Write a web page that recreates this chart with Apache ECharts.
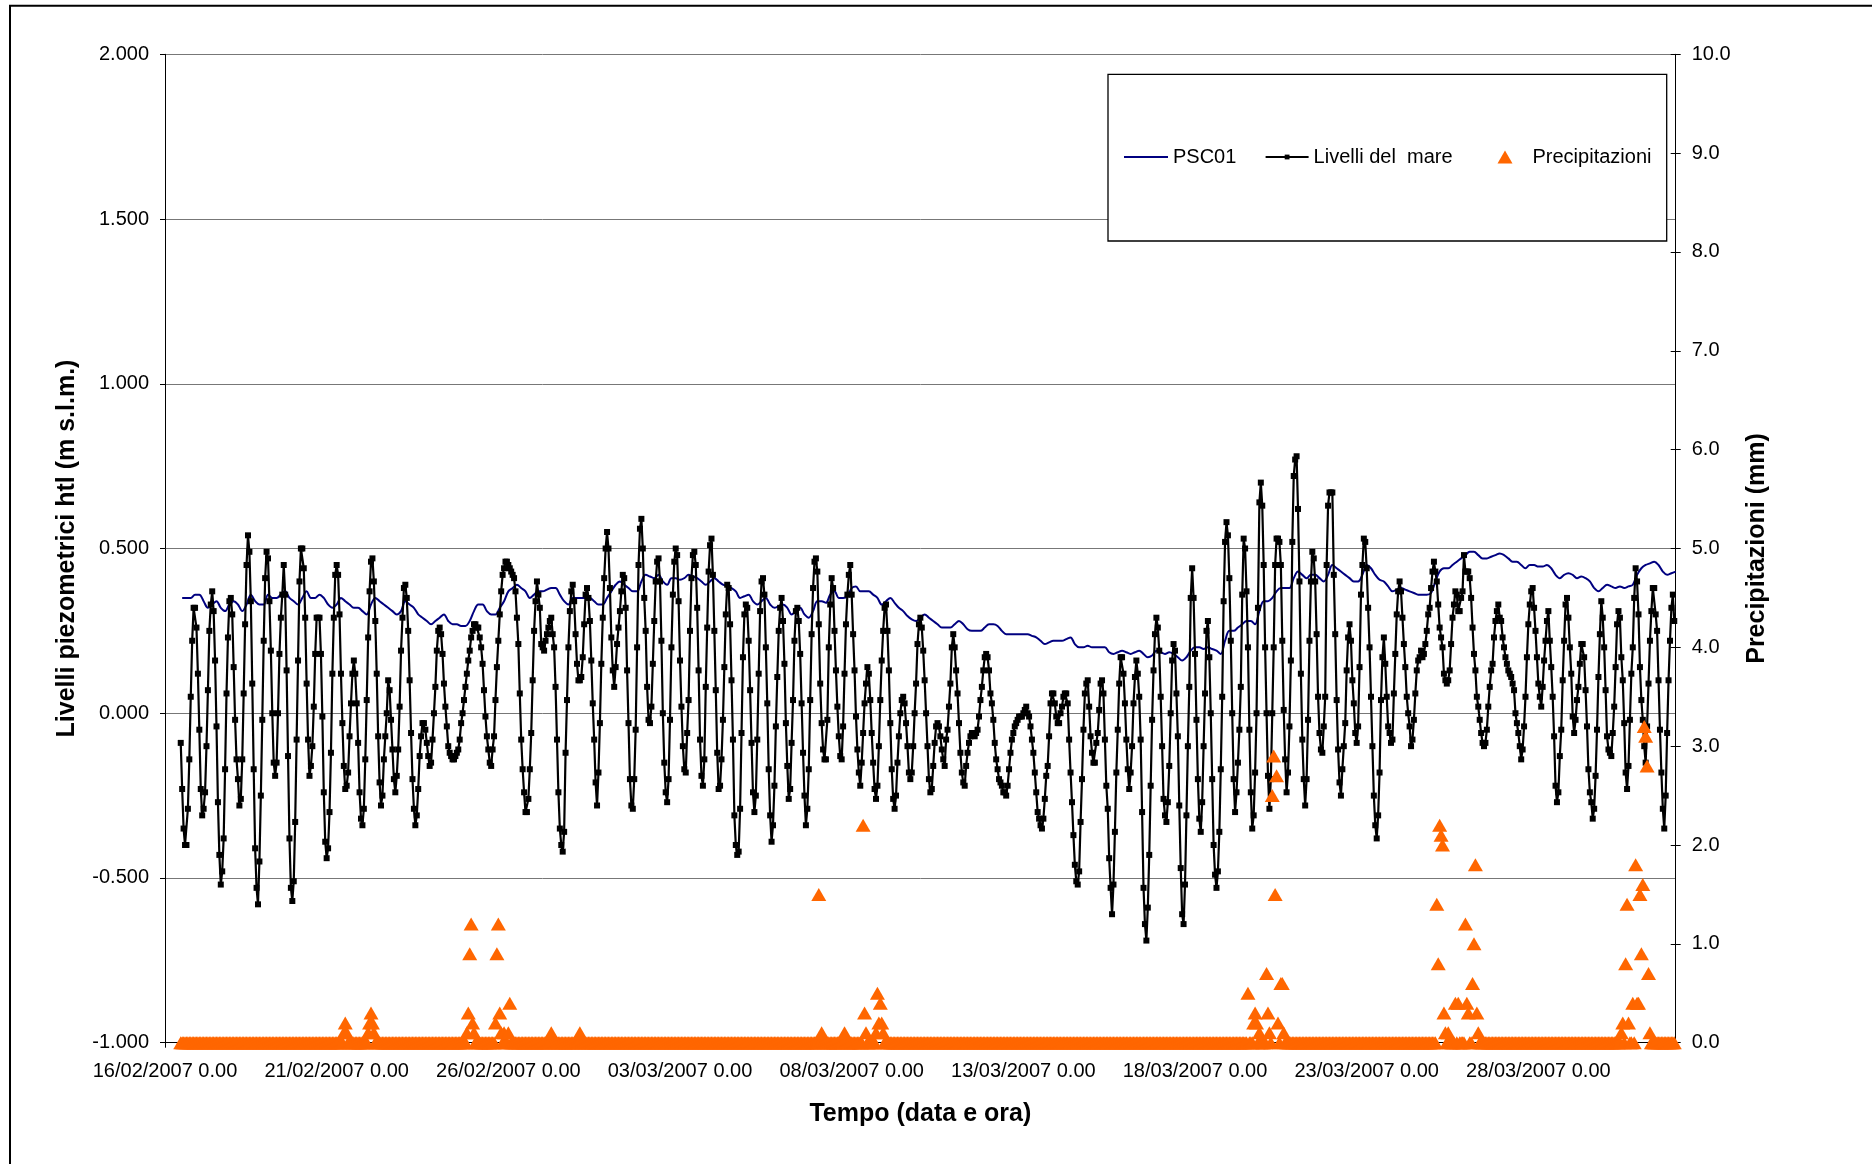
<!DOCTYPE html>
<html>
<head>
<meta charset="utf-8">
<script src="https://cdn.jsdelivr.net/npm/echarts@6/dist/echarts.min.js"></script>
<style>
html,body{margin:0;padding:0;background:#ffffff;}
#chart{width:1872px;height:1164px;}
</style>
</head>
<body>
<div id="chart"></div>
<script>
// ---------------- DATA ----------------
// x axis: hours counted from 16/02/2007 0.00 ; axis spans 44 days
const xMaxHours = 1056;
const xTickStepHours = 120;
const xTickLabels = ['16/02/2007 0.00','21/02/2007 0.00','26/02/2007 0.00','03/03/2007 0.00','08/03/2007 0.00','13/03/2007 0.00','18/03/2007 0.00','23/03/2007 0.00','28/03/2007 0.00'];
const leftAxisTicks = [-1.0,-0.5,0.0,0.5,1.0,1.5,2.0];
const rightAxisTicks = [0,1,2,3,4,5,6,7,8,9,10];

const seriesNames = ['PSC01','Livelli del  mare','Precipitazioni'];

// Livelli del mare: hourly values, one row per day (row 0 starts at 16/02 11:00)
const seaFirstHour = 11;
const seaLevelByDay = [
[-0.09,-0.23,-0.35,-0.40,-0.40,-0.29,-0.14,0.05,0.22,0.32,0.32,0.26,0.12],
[-0.05,-0.23,-0.31,-0.29,-0.24,-0.10,0.07,0.25,0.33,0.37,0.31,0.16,-0.04,-0.27,-0.43,-0.52,-0.48,-0.38,-0.17,0.06,0.23,0.34,0.35,0.30],
[0.14,-0.02,-0.14,-0.20,-0.28,-0.26,-0.14,0.06,0.27,0.45,0.54,0.49,0.34,0.09,-0.17,-0.41,-0.53,-0.58,-0.45,-0.25,-0.02,0.22,0.41,0.49],
[0.47,0.34,0.19,0.00,-0.15,-0.19,-0.15,0.00,0.18,0.29,0.36,0.45,0.36,0.13,-0.13,-0.38,-0.53,-0.57,-0.51,-0.33,-0.08,0.16,0.40,0.50],
[0.50,0.44,0.29,0.09,-0.08,-0.19,-0.16,-0.10,0.02,0.18,0.29,0.29,0.29,0.18,-0.01,-0.24,-0.39,-0.44,-0.41,-0.30,-0.12,0.12,0.29,0.42],
[0.45,0.42,0.30,0.12,-0.03,-0.16,-0.23,-0.22,-0.18,-0.07,0.03,0.12,0.16,0.12,0.03,-0.09,-0.24,-0.32,-0.34,-0.29,-0.14,0.04,0.23,0.37],
[0.46,0.47,0.40,0.28,0.12,-0.07,-0.21,-0.28,-0.25,-0.14,-0.07,0.00,0.10,0.07,-0.02,-0.11,-0.20,-0.24,-0.19,-0.11,0.02,0.19,0.29,0.38],
[0.39,0.35,0.25,0.10,-0.06,-0.20,-0.29,-0.34,-0.31,-0.23,-0.13,-0.07,-0.03,-0.03,-0.05,-0.09,-0.13,-0.16,-0.15,-0.08,0.00,0.08,0.19,0.25],
[0.26,0.24,0.18,0.09,0.02,-0.04,-0.10,-0.12,-0.13,-0.14,-0.14,-0.13,-0.12,-0.11,-0.08,-0.03,0.00,0.04,0.08,0.12,0.16,0.19,0.23,0.25],
[0.27,0.27,0.26,0.26,0.23,0.20,0.15,0.07,-0.01,-0.07,-0.11,-0.15,-0.16,-0.11,-0.07,0.04,0.14,0.22,0.30,0.37,0.42,0.44,0.46,0.46],
[0.45,0.44,0.43,0.42,0.41,0.37,0.29,0.21,0.06,-0.08,-0.17,-0.24,-0.30,-0.30,-0.26,-0.17,-0.06,0.10,0.25,0.34,0.40,0.36,0.32,0.21],
[0.20,0.19,0.22,0.24,0.26,0.28,0.29,0.24,0.20,0.08,-0.08,-0.24,-0.35,-0.40,-0.42,-0.36,-0.12,0.04,0.20,0.31,0.37,0.39,0.34,0.24],
[0.15,0.10,0.10,0.11,0.17,0.27,0.36,0.38,0.35,0.28,0.16,0.03,-0.08,-0.21,-0.28,-0.18,-0.03,0.15,0.29,0.41,0.50,0.55,0.50,0.38],
[0.23,0.13,0.08,0.14,0.21,0.26,0.31,0.37,0.42,0.41,0.32,0.13,-0.03,-0.20,-0.28,-0.29,-0.20,-0.05,0.20,0.45,0.56,0.59,0.50,0.35],
[0.25,0.08,-0.02,-0.03,0.02,0.15,0.28,0.40,0.46,0.47,0.40,0.22,0.00,-0.15,-0.24,-0.27,-0.20,-0.02,0.20,0.36,0.46,0.50,0.48,0.34],
[0.16,0.02,-0.10,-0.17,-0.18,-0.06,0.04,0.25,0.41,0.48,0.49,0.45,0.32,0.13,-0.08,-0.19,-0.22,-0.14,0.08,0.26,0.43,0.51,0.53,0.42],
[0.25,0.07,-0.12,-0.23,-0.22,-0.14,-0.02,0.14,0.30,0.39,0.38,0.27,0.10,-0.08,-0.31,-0.40,-0.43,-0.42,-0.29,-0.06,0.17,0.30,0.33,0.32],
[0.22,0.07,-0.09,-0.24,-0.30,-0.25,-0.08,0.12,0.31,0.40,0.41,0.36,0.20,0.03,-0.17,-0.31,-0.39,-0.34,-0.22,-0.04,0.11,0.25,0.32,0.35],
[0.28,0.15,-0.03,-0.16,-0.26,-0.23,-0.09,0.04,0.22,0.31,0.32,0.28,0.18,0.03,-0.12,-0.25,-0.34,-0.29,-0.17,0.04,0.24,0.38,0.46,0.47],
[0.43,0.27,0.09,-0.03,-0.11,-0.14,-0.14,-0.02,0.20,0.33,0.41,0.38,0.25,0.13,0.02,-0.07,-0.13,-0.14,-0.04,0.12,0.27,0.36,0.42,0.45],
[0.36,0.24,0.13,-0.01,-0.11,-0.18,-0.22,-0.15,-0.06,0.03,0.09,0.14,0.12,0.04,-0.06,-0.15,-0.23,-0.26,-0.22,-0.10,0.04,0.16,0.25,0.32],
[0.33,0.25,0.13,-0.03,-0.17,-0.26,-0.29,-0.25,-0.15,-0.07,0.00,0.04,0.05,0.03,-0.03,-0.10,-0.18,-0.20,-0.18,-0.10,0.00,0.09,0.21,0.27],
[0.29,0.26,0.19,0.10,0.00,-0.10,-0.20,-0.24,-0.23,-0.16,-0.09,-0.04,-0.03,-0.04,-0.07,-0.11,-0.14,-0.16,-0.08,-0.05,0.02,0.09,0.20,0.24],
[0.20,0.13,0.06,-0.03,-0.12,-0.18,-0.21,-0.22,-0.16,-0.12,-0.09,-0.07,-0.06,-0.06,-0.07,-0.06,-0.05,-0.01,0.04,0.08,0.13,0.17,0.18,0.17],
[0.13,0.06,0.03,-0.02,-0.09,-0.14,-0.17,-0.20,-0.21,-0.22,-0.24,-0.24,-0.25,-0.22,-0.17,-0.12,-0.08,-0.06,-0.04,-0.03,-0.02,-0.01,-0.01,-0.01],
[0.00,0.01,0.02,0.00,-0.01,-0.04,-0.08,-0.12,-0.18,-0.24,-0.30,-0.32,-0.34,-0.35,-0.32,-0.26,-0.19,-0.16,-0.07,0.03,0.06,0.06,0.03,-0.01],
[-0.03,-0.03,0.00,0.02,0.05,0.06,0.06,0.03,-0.08,-0.18,-0.27,-0.37,-0.46,-0.51,-0.52,-0.48,-0.33,-0.20,-0.05,0.06,0.09,0.10,0.02,-0.07],
[-0.12,-0.15,-0.15,-0.09,-0.06,0.01,0.09,0.10,0.06,-0.08,-0.22,-0.29,-0.44,-0.53,-0.61,-0.52,-0.36,-0.18,-0.05,0.09,0.17,0.17,0.12,0.03],
[-0.08,-0.17,-0.23,-0.18,-0.10,0.03,0.11,0.16,0.12,0.05,-0.08,-0.30,-0.53,-0.64,-0.69,-0.59,-0.43,-0.22,-0.02,0.13,0.24,0.29,0.26,0.19],
[0.05,-0.10,-0.26,-0.31,-0.33,-0.27,-0.16,0.00,0.16,0.21,0.19,0.06,-0.07,-0.28,-0.47,-0.61,-0.64,-0.52,-0.31,-0.10,0.08,0.35,0.44,0.35],
[0.18,-0.02,-0.20,-0.32,-0.36,-0.27,-0.10,0.06,0.25,0.28,0.17,0.00,-0.20,-0.40,-0.49,-0.53,-0.48,-0.36,-0.17,0.05,0.34,0.52,0.58,0.54],
[0.41,0.22,0.00,-0.20,-0.30,-0.24,-0.15,-0.05,0.08,0.36,0.53,0.50,0.37,0.20,-0.05,-0.24,-0.35,-0.31,-0.18,0.00,0.32,0.64,0.70,0.63],
[0.45,0.20,0.00,-0.19,-0.29,-0.20,0.00,0.20,0.45,0.53,0.53,0.52,0.45,0.22,0.01,-0.14,-0.24,-0.18,-0.04,0.16,0.52,0.72,0.77,0.78],
[0.62,0.40,0.12,-0.08,-0.20,-0.28,-0.20,-0.02,0.22,0.40,0.49,0.47,0.40,0.24,0.05,-0.06,-0.11,-0.12,-0.04,0.05,0.45,0.63,0.67,0.67],
[0.67,0.42,0.24,0.04,-0.11,-0.21,-0.25,-0.17,-0.10,-0.03,0.13,0.23,0.27,0.22,0.10,0.03,-0.06,-0.09,-0.04,0.14,0.36,0.45,0.53,0.52],
[0.44,0.32,0.20,0.05,-0.10,-0.25,-0.34,-0.38,-0.31,-0.18,0.04,0.17,0.23,0.15,0.05,-0.04,-0.06,-0.09,-0.08,0.06,0.18,0.30,0.37,0.40],
[0.37,0.29,0.21,0.14,0.05,0.00,-0.04,-0.10,-0.08,-0.02,0.06,0.13,0.16,0.17,0.19,0.17,0.18,0.21,0.25,0.30,0.32,0.38,0.43,0.46],
[0.43,0.40,0.33,0.26,0.23,0.20,0.12,0.10,0.09,0.10,0.13,0.21,0.29,0.33,0.37,0.36,0.31,0.31,0.35,0.37,0.48,0.43,0.43,0.43],
[0.41,0.35,0.26,0.18,0.13,0.05,0.02,-0.02,-0.06,-0.09,-0.10,-0.09,-0.05,0.02,0.08,0.13,0.15,0.23,0.28,0.31,0.33,0.29,0.28,0.23],
[0.20,0.17,0.15,0.13,0.12,0.11,0.09,0.07,0.00,-0.03,-0.06,-0.10,-0.14,-0.11,-0.04,0.05,0.17,0.27,0.33,0.37,0.38,0.32,0.25,0.17],
[0.09,0.05,0.02,0.08,0.16,0.22,0.28,0.31,0.22,0.14,0.05,-0.07,-0.22,-0.27,-0.24,-0.13,-0.05,0.10,0.22,0.33,0.35,0.29,0.20,0.12],
[-0.01,-0.06,-0.02,0.04,0.08,0.15,0.21,0.21,0.17,0.07,-0.04,-0.17,-0.24,-0.27,-0.32,-0.29,-0.19,-0.05,0.11,0.24,0.34,0.29,0.20,0.07],
[-0.07,-0.11,-0.12,-0.13,-0.06,0.02,0.14,0.27,0.31,0.29,0.17,0.10,-0.03,-0.18,-0.23,-0.16,-0.02,0.12,0.20,0.35,0.44,0.40,0.30,0.14],
[0.04,-0.02,-0.10,-0.15,-0.04,0.09,0.22,0.31,0.38,0.38,0.30,0.25,0.10,-0.05,-0.18,-0.29,-0.35,-0.25,-0.06,0.10,0.22,0.32,0.36,0.28]
];

// PSC01: values every 3 hours, one row per day (row 0 starts at 16/02 12:00)
const pscFirstHour = 12;
const pscStepHours = 3;
const psc01ByDay = [
[0.35,0.35,0.35,0.36],
[0.36,0.34,0.32,0.33,0.34,0.32,0.31,0.33],
[0.34,0.33,0.31,0.33,0.36,0.34,0.33,0.33],
[0.36,0.35,0.35,0.36,0.37,0.35,0.34,0.33],
[0.35,0.37,0.35,0.35,0.36,0.35,0.33,0.32],
[0.33,0.35,0.34,0.33,0.32,0.32,0.31,0.30],
[0.33,0.35,0.34,0.33,0.32,0.31,0.30,0.31],
[0.34,0.33,0.32,0.30,0.29,0.28,0.27,0.28],
[0.29,0.30,0.28,0.27,0.27,0.265,0.265,0.28],
[0.31,0.33,0.33,0.31,0.30,0.30,0.32,0.34],
[0.37,0.38,0.39,0.38,0.37,0.35,0.36,0.37],
[0.37,0.375,0.38,0.38,0.36,0.34,0.33,0.35],
[0.35,0.35,0.35,0.35,0.34,0.33,0.33,0.35],
[0.37,0.39,0.40,0.39,0.38,0.37,0.37,0.40],
[0.42,0.415,0.41,0.42,0.40,0.39,0.41,0.41],
[0.405,0.41,0.42,0.415,0.41,0.40,0.39,0.40],
[0.41,0.40,0.39,0.385,0.38,0.37,0.35,0.355],
[0.36,0.34,0.33,0.34,0.35,0.33,0.32,0.325],
[0.33,0.32,0.30,0.31,0.32,0.30,0.29,0.31],
[0.34,0.34,0.335,0.36,0.37,0.35,0.35,0.355],
[0.38,0.385,0.37,0.37,0.37,0.36,0.35,0.33],
[0.34,0.35,0.335,0.32,0.31,0.295,0.285,0.28],
[0.29,0.30,0.29,0.28,0.27,0.26,0.26,0.26],
[0.27,0.28,0.27,0.255,0.25,0.25,0.25,0.26],
[0.27,0.27,0.265,0.25,0.24,0.24,0.24,0.24],
[0.24,0.24,0.235,0.23,0.22,0.21,0.215,0.22],
[0.22,0.22,0.225,0.23,0.21,0.20,0.20,0.205],
[0.20,0.20,0.20,0.20,0.185,0.18,0.185,0.19],
[0.185,0.18,0.185,0.19,0.18,0.17,0.175,0.19],
[0.185,0.18,0.185,0.18,0.17,0.16,0.17,0.19],
[0.20,0.20,0.195,0.20,0.195,0.19,0.18,0.22],
[0.25,0.25,0.26,0.27,0.28,0.28,0.27,0.31],
[0.34,0.34,0.35,0.37,0.38,0.38,0.38,0.41],
[0.43,0.42,0.41,0.42,0.42,0.41,0.40,0.42],
[0.45,0.44,0.43,0.42,0.41,0.40,0.40,0.42],
[0.45,0.44,0.42,0.405,0.40,0.385,0.37,0.375],
[0.38,0.375,0.37,0.365,0.36,0.36,0.36,0.365],
[0.40,0.43,0.44,0.44,0.45,0.46,0.47,0.48],
[0.49,0.49,0.48,0.47,0.47,0.475,0.48,0.485],
[0.48,0.47,0.46,0.46,0.45,0.44,0.45,0.45],
[0.445,0.445,0.45,0.44,0.42,0.41,0.42,0.425],
[0.42,0.41,0.415,0.41,0.40,0.38,0.37,0.38],
[0.39,0.385,0.38,0.385,0.38,0.385,0.39,0.42],
[0.44,0.45,0.455,0.46,0.45,0.43,0.42,0.425],
[0.43]
];

// Precipitazioni (mm): hourly values, one row per day (row 0 starts at 16/02 11:00)
const rainFirstHour = 11;
const rainByDay = [
[0,0,0,0,0,0,0,0,0,0,0,0,0],
[0,0,0,0,0,0,0,0,0,0,0,0,0,0,0,0,0,0,0,0,0,0,0,0],
[0,0,0,0,0,0,0,0,0,0,0,0,0,0,0,0,0,0,0,0,0,0,0,0],
[0,0,0,0,0,0,0,0,0,0,0,0,0,0,0,0,0,0,0,0,0,0,0,0],
[0,0,0,0,0,0,0,0,0,0,0,0,0,0,0,0,0,0,0,0,0,0,0,0],
[0,0,0,0,0,0.1,0.2,0.1,0,0,0,0,0,0,0,0,0,0,0,0,0,0,0.1,0.2],
[0.3,0.2,0.1,0,0,0,0,0,0,0,0,0,0,0,0,0,0,0,0,0,0,0,0,0],
[0,0,0,0,0,0,0,0,0,0,0,0,0,0,0,0,0,0,0,0,0,0,0,0],
[0,0,0,0,0,0,0,0,0,0,0,0,0,0,0,0,0,0,0,0.1,0.3,0.9,1.2,0.2],
[0.1,0,0,0,0,0,0,0,0,0,0,0,0,0,0,0.2,0.9,1.2,0.3,0.1,0,0.1,0,0],
[0.1,0.4,0,0,0,0,0,0,0,0,0,0,0,0,0,0,0,0,0,0,0,0,0,0],
[0,0,0,0,0,0,0.1,0,0,0,0,0,0,0,0,0,0,0,0,0,0,0,0,0],
[0,0,0.1,0,0,0,0,0,0,0,0,0,0,0,0,0,0,0,0,0,0,0,0,0],
[0,0,0,0,0,0,0,0,0,0,0,0,0,0,0,0,0,0,0,0,0,0,0,0],
[0,0,0,0,0,0,0,0,0,0,0,0,0,0,0,0,0,0,0,0,0,0,0,0],
[0,0,0,0,0,0,0,0,0,0,0,0,0,0,0,0,0,0,0,0,0,0,0,0],
[0,0,0,0,0,0,0,0,0,0,0,0,0,0,0,0,0,0,0,0,0,0,0,0],
[0,0,0,0,0,0,0,0,0,0,0,0,0,0,0,0,0,0,0,0,0,0,0,0],
[0,0,0,0,0,0,0,0,0,0,0,0,0,0,0,0,0,0,0,0,0,0,0,0],
[0,1.5,0,0.1,0,0,0,0,0,0,0,0,0,0,0,0,0,0,0,0.1,0,0,0,0],
[0,0,0,0,0,0,0,0,2.2,0.3,0.1,0,0,0,0,0,0,0.1,0.5,0.2,0.4,0.2,0.1,0],
[0,0,0,0,0,0,0,0,0,0,0,0,0,0,0,0,0,0,0,0,0,0,0,0],
[0,0,0,0,0,0,0,0,0,0,0,0,0,0,0,0,0,0,0,0,0,0,0,0],
[0,0,0,0,0,0,0,0,0,0,0,0,0,0,0,0,0,0,0,0,0,0,0,0],
[0,0,0,0,0,0,0,0,0,0,0,0,0,0,0,0,0,0,0,0,0,0,0,0],
[0,0,0,0,0,0,0,0,0,0,0,0,0,0,0,0,0,0,0,0,0,0,0,0],
[0,0,0,0,0,0,0,0,0,0,0,0,0,0,0,0,0,0,0,0,0,0,0,0],
[0,0,0,0,0,0,0,0,0,0,0,0,0,0,0,0,0,0,0,0,0,0,0,0],
[0,0,0,0,0,0,0,0,0,0,0,0,0,0,0,0,0,0,0,0,0,0,0,0],
[0,0,0,0,0,0,0,0,0,0,0,0,0,0,0,0,0,0,0,0,0,0,0,0],
[0,0,0,0,0,0,0,0,0,0,0,0,0,0,0,0,0,0,0,0,0,0,0,0],
[0,0,0,0,0,0,0,0,0,0,0,0,0,0.5,0,0,0,0.2,0.3,0.2,0,0.1,0,0],
[0,0,0.7,0.3,0.1,0,2.5,2.9,1.5,2.7,0.2,0,0.6,0.6,0.1,0,0,0,0,0,0,0,0,0],
[0,0,0,0,0,0,0,0,0,0,0,0,0,0,0,0,0,0,0,0,0,0,0,0],
[0,0,0,0,0,0,0,0,0,0,0,0,0,0,0,0,0,0,0,0,0,0,0,0],
[0,0,0,0,0,0,0,0,0,0,0,0,0,0,0,0,0,0,0,0,0,0,0,0],
[0,0,0,0,0,0,0,0,0,0,0,0,0,0,0,0,0,0,0,0,0,0,0,0],
[0,1.4,0.8,2.2,2.1,2.0,0.3,0.1,0,0.1,0,0,0,0,0.4,0,0.4,0,0,0,0,1.2,0.4,0.3],
[0,0,0.6,1.0,1.8,0.3,0.1,0,0,0,0,0,0,0,0,0,0,0,0,0,0,0,0,0],
[0,0,0,0,0,0,0,0,0,0,0,0,0,0,0,0,0,0,0,0,0,0,0,0],
[0,0,0,0,0,0,0,0,0,0,0,0,0,0,0,0,0,0,0,0,0,0,0,0],
[0,0,0,0,0,0,0,0,0,0,0,0,0,0,0,0,0,0,0,0,0,0,0,0],
[0,0,0,0,0,0,0,0,0,0,0.1,0.2,0,0.8,1.4,0.2,0,0,0.4,0,1.8,0.4,0.4,1.5],
[0.9,1.6,3.2,3.1,2.8,0.7,0.1,0,0,0,0,0,0,0,0,0,0,0,0,0,0,0,0,0]
];

// ---------------- BUILD ----------------
function toPoints(rows, firstHour, step) {
  const pts = [];
  rows.forEach(function (row, d) {
    const base = d === 0 ? firstHour : d * 24;
    row.forEach(function (v, i) { pts.push([base + i * step, v]); });
  });
  return pts;
}
const seaPoints = toPoints(seaLevelByDay, seaFirstHour, 1);
const pscPoints = toPoints(psc01ByDay, pscFirstHour, pscStepHours);
const rainPoints = toPoints(rainByDay, rainFirstHour, 1);

const FONT = "'Liberation Sans', Arial, sans-serif";
const chart = echarts.init(document.getElementById('chart'), null, {renderer: 'canvas'});

const leftMin = leftAxisTicks[0], leftMax = leftAxisTicks[leftAxisTicks.length - 1];
const leftStep = leftAxisTicks[1] - leftAxisTicks[0];
const rightMin = rightAxisTicks[0], rightMax = rightAxisTicks[rightAxisTicks.length - 1];
const rightStep = rightAxisTicks[1] - rightAxisTicks[0];

const legendText = {fontFamily: FONT, fontSize: 20, color: '#000'};
const legendBase = {
  orient: 'horizontal', padding: 0, itemGap: 0, z: 10,
  textStyle: legendText,
  selectedMode: false
};

chart.setOption({
  animation: false,
  backgroundColor: '#ffffff',
  grid: {left: 165, right: 196.3, top: 54.3, bottom: 121.3, containLabel: false, outerBoundsMode: 'none'},
  xAxis: {
    type: 'value', min: 0, max: xMaxHours, interval: xTickStepHours,
    axisLine: {onZero: false, lineStyle: {color: '#000', width: 1}},
    axisTick: {show: true, length: 5, lineStyle: {color: '#000'}},
    axisLabel: {
      fontFamily: FONT, fontSize: 20, color: '#000', margin: 19,
      formatter: function (v) { return (v % xTickStepHours === 0) ? (xTickLabels[v / xTickStepHours] || '') : ''; }
    },
    splitLine: {show: false},
    name: 'Tempo (data e ora)', nameLocation: 'middle', nameGap: 59, nameMoveOverlap: false,
    nameTextStyle: {fontFamily: FONT, fontSize: 25, fontWeight: 'bold', color: '#000'}
  },
  yAxis: [
    {
      type: 'value', position: 'left', min: leftMin, max: leftMax, interval: leftStep,
      axisLine: {show: true, onZero: false, lineStyle: {color: '#000', width: 1}},
      axisTick: {show: true, length: 5, lineStyle: {color: '#000'}},
      axisLabel: {fontFamily: FONT, fontSize: 20, color: '#000', margin: 16, formatter: function (v) { return v.toFixed(3); }},
      splitLine: {show: true, lineStyle: {color: '#777777', width: 1}},
      name: 'Livelli piezometrici htl (m s.l.m.)', nameLocation: 'middle', nameRotate: 90, nameGap: 85, nameMoveOverlap: false,
      nameTextStyle: {fontFamily: FONT, fontSize: 25, fontWeight: 'bold', color: '#000'}
    },
    {
      type: 'value', position: 'right', min: rightMin, max: rightMax, interval: rightStep,
      axisLine: {show: true, onZero: false, lineStyle: {color: '#000', width: 1}},
      axisTick: {show: true, length: 5, lineStyle: {color: '#000'}},
      axisLabel: {fontFamily: FONT, fontSize: 20, color: '#000', margin: 16, formatter: function (v) { return v.toFixed(1); }},
      splitLine: {show: false},
      name: 'Precipitazioni (mm)', nameLocation: 'middle', nameRotate: 90, nameGap: 69, nameMoveOverlap: false,
      nameTextStyle: {fontFamily: FONT, fontSize: 25, fontWeight: 'bold', color: '#000'}
    },
    {
      type: 'value', position: 'right', min: rightMin, max: rightMax, interval: rightStep,
      axisLine: {show: false, onZero: false},
      axisTick: {show: true, inside: true, length: 5, lineStyle: {color: '#000'}},
      axisLabel: {show: false},
      splitLine: {show: false}
    }
  ],
  legend: [
    Object.assign({}, legendBase, {data: [seriesNames[0]], left: 1123, top: 147, itemWidth: 44, itemHeight: 14, itemStyle: {opacity: 0}}),
    Object.assign({}, legendBase, {data: [seriesNames[1]], left: 1264.6, top: 147, itemWidth: 43, itemHeight: 6}),
    Object.assign({}, legendBase, {
      data: [{name: seriesNames[2], icon: 'triangle'}], left: 1497.5, top: 147, itemWidth: 15, itemHeight: 13,
      textStyle: Object.assign({}, legendText, {padding: [0, 0, 0, 15]})
    })
  ],
  graphic: [
    {type: 'rect', silent: true, z: 1, shape: {x: 10, y: 5.7, width: 1900, height: 1200}, style: {fill: 'none', stroke: '#000', lineWidth: 2}},
    {type: 'rect', silent: true, z: 5, shape: {x: 1108, y: 74.3, width: 558.7, height: 166.7}, style: {fill: '#fff', stroke: '#000', lineWidth: 1.3}}
  ],
  series: [
    {
      name: seriesNames[0], type: 'line', xAxisIndex: 0, yAxisIndex: 0, data: pscPoints,
      symbol: 'none', smooth: 0.35, lineStyle: {color: '#000080', width: 2}, itemStyle: {color: '#000080'}, z: 2
    },
    {
      name: seriesNames[1], type: 'line', xAxisIndex: 0, yAxisIndex: 0, data: seaPoints,
      symbol: 'rect', symbolSize: 6, showSymbol: true, showAllSymbol: true,
      lineStyle: {color: '#000', width: 2.2}, itemStyle: {color: '#000'}, z: 3
    },
    {
      name: seriesNames[2], type: 'scatter', xAxisIndex: 0, yAxisIndex: 1, data: rainPoints,
      symbol: 'triangle', symbolSize: [15, 13], itemStyle: {color: '#FF6600', opacity: 1}, z: 4, large: false
    }
  ]
});
</script>
</body>
</html>
